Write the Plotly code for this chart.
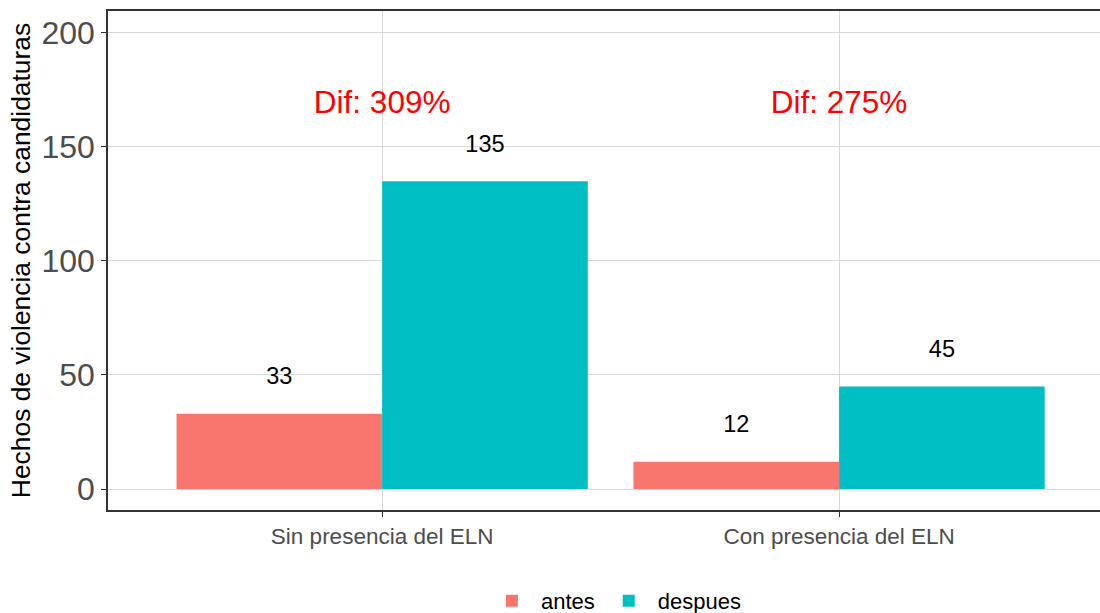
import plotly.graph_objects as go

categories = ["Sin presencia del ELN", "Con presencia del ELN"]
antes = [33, 12]
despues = [135, 45]
dif_labels = ["Dif: 309%", "Dif: 275%"]
y_ticks = [0, 50, 100, 150, 200]

label_offset = 15.5
dif_y = 168.5
half = 0.225

idx = list(range(len(categories)))

fig = go.Figure()
fig.add_trace(go.Bar(x=idx, y=antes, name="antes", marker=dict(color="#F8766D", line=dict(width=0))))
fig.add_trace(go.Bar(x=idx, y=despues, name="despues", marker=dict(color="#00BFC4", line=dict(width=0))))

fig.add_trace(go.Scatter(x=[i - half for i in idx], y=[v + label_offset for v in antes],
                         mode="text", text=[str(v) for v in antes], showlegend=False,
                         textfont=dict(size=23.5, color="black", family="Liberation Sans, Arial")))
fig.add_trace(go.Scatter(x=[i + half for i in idx], y=[v + label_offset for v in despues],
                         mode="text", text=[str(v) for v in despues], showlegend=False,
                         textfont=dict(size=23.5, color="black", family="Liberation Sans, Arial")))
fig.add_trace(go.Scatter(x=idx, y=[dif_y] * len(idx), mode="text", text=dif_labels, showlegend=False,
                         textfont=dict(size=31.5, color="red", family="Liberation Sans, Arial")))

fig.update_layout(
    width=1100, height=613,
    margin=dict(l=108, r=0, t=11, b=103, autoexpand=False),
    paper_bgcolor="white", plot_bgcolor="white",
    barmode="group", bargap=0.1, bargroupgap=0,
    font=dict(family="Liberation Sans, Arial", color="black"),
    legend=dict(orientation="h", x=0.511, xanchor="center", y=-0.14, yanchor="top",
                font=dict(size=22, color="black"), traceorder="normal", itemwidth=48),
)
fig.update_xaxes(
    range=[-0.6, 1.571], tickmode="array", tickvals=idx, ticktext=categories,
    showgrid=True, gridcolor="#d9d9d9", gridwidth=1,
    showline=True, linecolor="#333333", linewidth=1.5, mirror=True,
    ticks="outside", ticklen=5, tickcolor="#333333", automargin=False,
    tickfont=dict(size=22.5, color="#4d4d4d"), zeroline=False,
)
fig.update_yaxes(
    range=[-9.2, 209.6], tickmode="array", tickvals=y_ticks,
    showgrid=True, gridcolor="#d9d9d9", gridwidth=1,
    showline=True, linecolor="#333333", linewidth=1.5, automargin=False,
    ticks="outside", ticklen=5, tickcolor="#333333",
    tickfont=dict(size=32, color="#4d4d4d"), zeroline=False,
    title=dict(text="Hechos de violencia contra candidaturas", font=dict(size=26.4, color="black"), standoff=3),
)

fig.write_html(
    "out.html", config={"displayModeBar": False},
    post_script=("document.documentElement.style.overflow='hidden';"
                 "document.body.style.margin='0';document.body.style.overflow='hidden';"),
)
